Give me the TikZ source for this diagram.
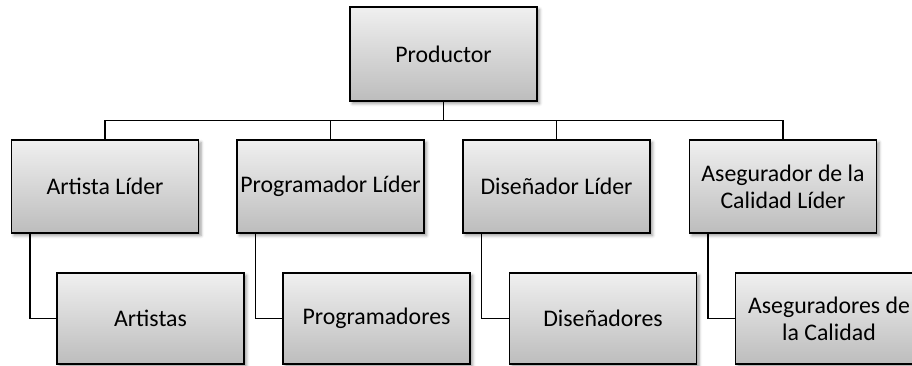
\documentclass[tikz,border=0pt]{standalone}
\usepackage{fontspec}
\setmainfont{Carlito}
\usetikzlibrary{shadows.blur}
\begin{document}
\begin{tikzpicture}[x=1pt,y=-1pt,
  box/.style={draw=black, line width=1.3pt, top color=gray!12, bottom color=gray!52,
    minimum width=187pt, minimum height=93pt, inner sep=0pt, align=center,
    font=\fontsize{23.8}{27}\selectfont,
    blur shadow={shadow xshift=2.5pt, shadow yshift=-2.5pt, shadow blur radius=3pt, shadow opacity=40}},
  link/.style={line width=1.5pt}]
\useasboundingbox (0,0) rectangle (912,366);
\clip (0,0) rectangle (912,366);

% top of the hierarchy
\node[box, minimum height=94pt] (prod) at (443.5,54) {Productor};

% leads
\node[box] (l1) at (105,186.5) {Artista Líder};
\node[box] (l2) at (330.5,186.5) {Programador Líder};
\node[box] (l3) at (556.5,186.5) {Diseñador Líder};
\node[box] (l4) at (783,186.5) {Asegurador de la\\Calidad Líder};

% teams
\node[box, minimum height=91pt] (c1) at (150.5,318.5) {Artistas};
\node[box, minimum height=91pt] (c2) at (376.5,318.5) {Programadores};
\node[box, minimum height=91pt] (c3) at (603,318.5) {Diseñadores};
\node[box, minimum height=91pt] (c4) at (829,318.5) {Aseguradores de\\la Calidad};

% bus from the producer to the leads
\coordinate (bus) at (0,120.5);
\draw[link] (prod.south) -- (prod.south |- bus);
\draw[link] (l1.north |- bus) -- (l4.north |- bus);
\foreach \n in {l1,l2,l3,l4}
  \draw[link] (\n.north |- bus) -- (\n.north);

% elbows from each lead to its team
\foreach \a/\b in {l1/c1,l2/c2,l3/c3,l4/c4}
  \draw[link] ([xshift=19pt]\a.south west) |- (\b.west);
\end{tikzpicture}
\end{document}
